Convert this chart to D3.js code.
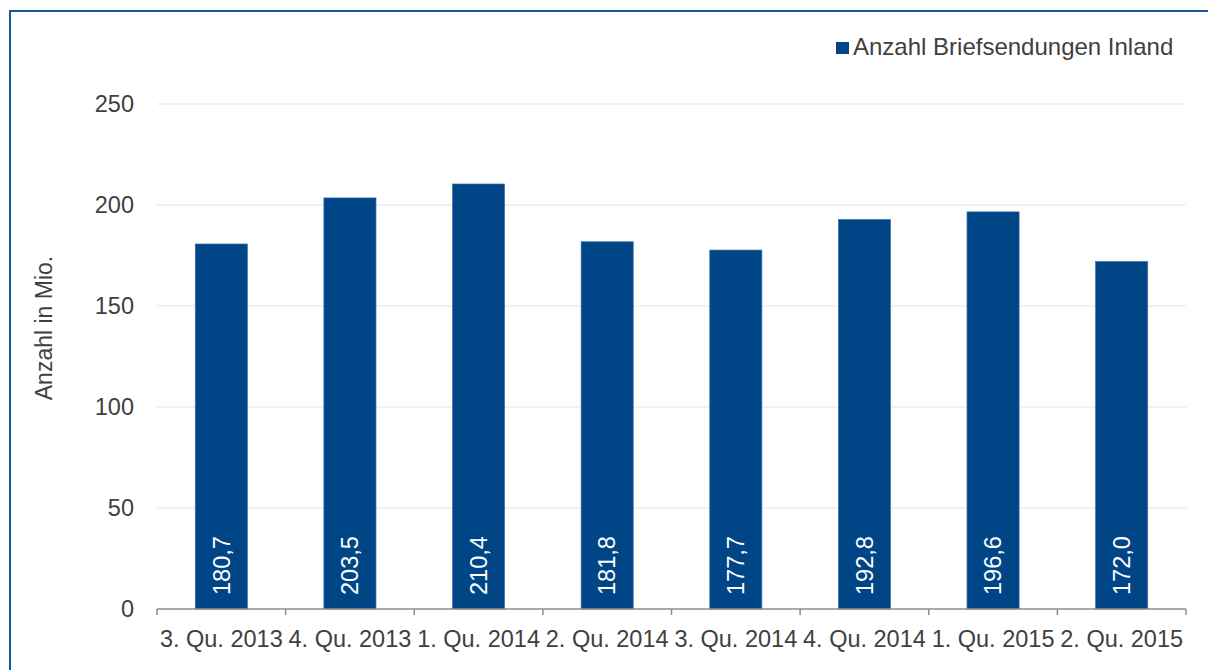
<!DOCTYPE html>
<html>
<head>
<meta charset="utf-8">
<script src="https://cdn.jsdelivr.net/npm/d3@7"></script>
<style>
  body { margin: 0; background: #fff; }
  svg { display: block; font-family: "Liberation Sans", Arial, sans-serif; }
</style>
</head>
<body>
<div id="chart"></div>
<script>
// data
var quarters = ["3. Qu. 2013", "4. Qu. 2013", "1. Qu. 2014", "2. Qu. 2014", "3. Qu. 2014", "4. Qu. 2014", "1. Qu. 2015", "2. Qu. 2015"];
var briefe = [180.7, 203.5, 210.4, 181.8, 177.7, 192.8, 196.6, 172.0];
var yTicks = [0, 50, 100, 150, 200, 250];

var W = 1208, H = 670;
var margin = { top: 104, right: 22, bottom: 61, left: 157 };
var width = W - margin.left - margin.right;
var height = H - margin.top - margin.bottom;
var fs = 23.5;

var svg = d3.select("#chart").append("svg")
  .attr("width", W)
  .attr("height", H);

// outer frame
svg.append("rect")
  .attr("x", 10).attr("y", 11)
  .attr("width", W + 20).attr("height", H + 20)
  .attr("fill", "none")
  .attr("stroke", "#1a56a0")
  .attr("stroke-width", 2);

var g = svg.append("g")
  .attr("transform", "translate(" + margin.left + "," + margin.top + ")");

var x = d3.scaleBand().domain(quarters).range([0, width]).paddingInner(0.595).paddingOuter(0.2975);
var x0 = d3.scaleBand().domain(quarters).range([0, width]);
var y = d3.scaleLinear().domain([0, 250]).range([height, 0]);

// gridlines
g.selectAll(".grid").data(yTicks.filter(function (d) { return d > 0; }))
  .enter().append("line")
  .attr("x1", 0).attr("x2", width)
  .attr("y1", function (d) { return y(d); })
  .attr("y2", function (d) { return y(d); })
  .attr("stroke", "#e3e3e3")
  .attr("stroke-width", 1);

// y tick labels
g.selectAll(".ylab").data(yTicks)
  .enter().append("text")
  .attr("x", -23)
  .attr("y", function (d) { return y(d); })
  .attr("dy", "0.35em")
  .attr("text-anchor", "end")
  .attr("font-size", fs)
  .attr("fill", "#404040")
  .text(function (d) { return d; });

// bars
g.selectAll(".bar").data(briefe)
  .enter().append("rect")
  .attr("x", function (d, i) { return x(quarters[i]); })
  .attr("y", function (d) { return y(d); })
  .attr("width", x.bandwidth())
  .attr("height", function (d) { return y(0) - y(d); })
  .attr("fill", "#004586")
  .attr("stroke", "#3a6fae")
  .attr("stroke-width", 0.7);

// value labels
g.selectAll(".val").data(briefe)
  .enter().append("text")
  .attr("transform", function (d, i) {
    return "translate(" + (x(quarters[i]) + x.bandwidth() / 2) + "," + (y(0) - 14) + ") rotate(-90)";
  })
  .attr("dy", "0.35em")
  .attr("text-anchor", "start")
  .attr("font-size", fs)
  .attr("fill", "#fff")
  .text(function (d) { return d3.format(".1f")(d).replace(".", ","); });

// x axis
var xAxis = g.append("g").attr("transform", "translate(0," + height + ")");
xAxis.append("line")
  .attr("x1", 0).attr("x2", width)
  .attr("stroke", "#8c8c8c").attr("stroke-width", 1.5);
xAxis.selectAll(".tick").data(d3.range(quarters.length + 1))
  .enter().append("line")
  .attr("x1", function (i) { return i * x0.step(); })
  .attr("x2", function (i) { return i * x0.step(); })
  .attr("y1", 0).attr("y2", 6)
  .attr("stroke", "#8c8c8c").attr("stroke-width", 1.5);
xAxis.selectAll(".xlab").data(quarters)
  .enter().append("text")
  .attr("x", function (d) { return x0(d) + x0.bandwidth() / 2; })
  .attr("y", 38)
  .attr("text-anchor", "middle")
  .attr("font-size", fs)
  .attr("fill", "#404040")
  .text(function (d) { return d; });

// y axis title
svg.append("text")
  .attr("transform", "translate(52,328) rotate(-90)")
  .attr("text-anchor", "middle")
  .attr("font-size", 23)
  .attr("fill", "#404040")
  .text("Anzahl in Mio.");

// legend
svg.append("rect")
  .attr("x", 836).attr("y", 42)
  .attr("width", 13).attr("height", 12)
  .attr("fill", "#004586");
svg.append("text")
  .attr("x", 853).attr("y", 55)
  .attr("font-size", 24)
  .attr("fill", "#404040")
  .text("Anzahl Briefsendungen Inland");
</script>
</body>
</html>
